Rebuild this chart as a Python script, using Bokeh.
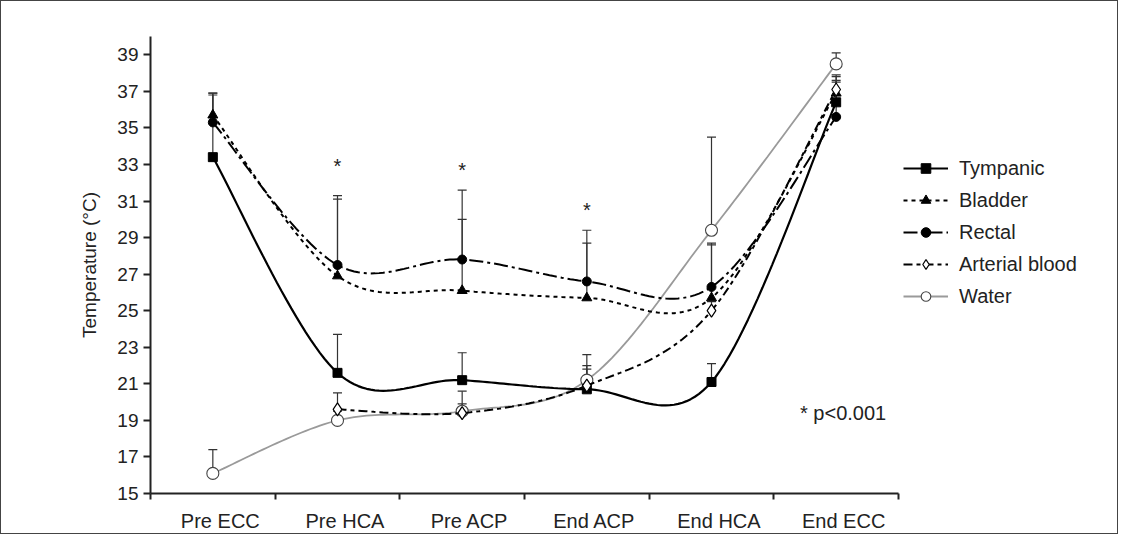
import numpy as np
from bokeh.plotting import figure
from bokeh.models import Range1d, FixedTicker, Legend, LegendItem
from bokeh.core.properties import value
from bokeh.embed import file_html
from bokeh.resources import INLINE

categories = ["Pre ECC", "Pre HCA", "Pre ACP", "End ACP", "End HCA", "End ECC"]
tympanic = [33.4, 21.6, 21.2, 20.7, 21.1, 36.4]
tympanic_err = [36.8, 23.7, 22.7, 22.6, 22.1, 37.6]
bladder = [35.7, 26.9, 26.1, 25.7, 25.7, 36.9]
bladder_err = [36.9, 31.1, 30.0, 28.7, 28.6, 37.8]
rectal = [35.3, 27.5, 27.8, 26.6, 26.3, 35.6]
rectal_err = [36.9, 31.3, 31.6, 29.4, 28.7, 37.5]
arterial = [None, 19.6, 19.4, 20.9, 25.0, 37.1]
arterial_err = [None, 20.5, 20.6, 21.8, 25.5, 37.9]
water = [16.1, 19.0, 19.5, 21.2, 29.4, 38.5]
water_err = [17.4, 19.5, 19.9, 22.0, 34.5, 39.1]
star_categories = ["Pre HCA", "Pre ACP", "End ACP"]
star_values = [32.9, 32.7, 30.5]
note_text = "* p<0.001"
y_ticks = list(range(15, 40, 2))

FONT = "Liberation Sans"
TXT = "#222222"

# layout (pixels)
W, H = 1118, 534
B_LEFT, B_RIGHT, B_TOP, B_BOTTOM = 149, 8, 35, 42
AXIS_PX = 748  # width of the category axis
frame_w = W - B_LEFT - B_RIGHT
n_cat = len(categories)
x_end = n_cat * frame_w / AXIS_PX

def cat_x(c):
    return categories.index(c) + 0.5

def smooth(xs, ys, n=30):
    P = np.column_stack([xs, ys]).astype(float)
    m = len(P)
    out = [P[0]]
    t = np.linspace(0, 1, n + 1)[1:, None]
    for i in range(m - 1):
        p0 = P[i - 1] if i > 0 else P[i]
        p1 = P[i]
        p2 = P[i + 1]
        p3 = P[i + 2] if i + 2 < m else P[i + 1]
        c1 = p1 + (p2 - p0) / 6.0
        c2 = p2 - (p3 - p1) / 6.0
        seg = (1 - t) ** 3 * p1 + 3 * (1 - t) ** 2 * t * c1 + 3 * (1 - t) * t ** 2 * c2 + t ** 3 * p2
        out.extend(seg)
    out = np.array(out)
    return out[:, 0], out[:, 1]

p = figure(width=W, height=H, x_range=Range1d(0, x_end), y_range=Range1d(15, 40),
           output_backend="svg", toolbar_location=None,
           min_border_left=B_LEFT, min_border_right=B_RIGHT,
           min_border_top=B_TOP, min_border_bottom=B_BOTTOM,
           styles={"border": "1px solid #444444"})
p.xgrid.visible = False
p.ygrid.visible = False
p.outline_line_color = None

series = [
    ("Tympanic", tympanic, tympanic_err, dict(line_color="black", line_width=2.2, line_dash="solid"),
     dict(marker="square", size=9, fill_color="black", line_color="black")),
    ("Bladder", bladder, bladder_err, dict(line_color="black", line_width=2, line_dash="4 4"),
     dict(marker="triangle", size=10, fill_color="black", line_color="black")),
    ("Rectal", rectal, rectal_err, dict(line_color="black", line_width=2, line_dash="14 4 3 4"),
     dict(marker="circle", size=9, fill_color="black", line_color="black")),
    ("Arterial blood", arterial, arterial_err, dict(line_color="black", line_width=2, line_dash="9 4 4 4"),
     dict(marker="diamond", size=13, fill_color="white", line_color="black", line_width=1.2)),
    ("Water", water, water_err, dict(line_color="#9a9a9a", line_width=1.8, line_dash="solid"),
     dict(marker="circle", size=12, fill_color="white", line_color="#444444", line_width=1.1)),
]

# error bars (upper only)
for name, vals, errs, _, _ in series:
    xs = [i + 0.5 for i, v in enumerate(vals) if v is not None]
    lo = [v for v in vals if v is not None]
    hi = [e for v, e in zip(vals, errs) if v is not None]
    p.segment(x0=xs, y0=lo, x1=xs, y1=hi, line_color="#333333", line_width=1.2)
    p.scatter(x=xs, y=hi, marker="dash", size=9, line_color="#333333", line_width=1.2)

order = [4, 0, 1, 2, 3]
renders = {}
for idx in order:
    name, vals, errs, lstyle, mstyle = series[idx]
    xs = [i + 0.5 for i, v in enumerate(vals) if v is not None]
    ys = [v for v in vals if v is not None]
    sx, sy = smooth(xs, ys)
    lr = p.line(sx, sy, **lstyle)
    mr = p.scatter(x=xs, y=ys, **mstyle)
    renders[name] = (lr, mr)
items = [LegendItem(label=name, renderers=list(renders[name])) for name, *_ in series]

legend = Legend(items=items, location=(AXIS_PX + 5, 185), glyph_width=45, glyph_height=24,
                label_height=24, spacing=8, padding=0, margin=0, label_standoff=11,
                border_line_alpha=0, background_fill_alpha=0,
                label_text_font=FONT, label_text_font_size="20px", label_text_color=TXT,
                label_text_baseline="middle")
p.add_layout(legend, "center")

# significance stars and note
p.text(x=[cat_x(c) for c in star_categories], y=star_values, text=["*"] * len(star_values),
       text_align="center", text_baseline="middle", text_font=value(FONT),
       text_font_size="20px", text_color=TXT)
p.text(x=[5.21], y=[19.4], text=[note_text], text_align="left", text_baseline="middle",
       text_font=value(FONT), text_font_size="20px", text_color=TXT)

# axes
label_shift = 0.06
xa = p.xaxis[0]
xa.bounds = (0, n_cat)
xa.ticker = FixedTicker(ticks=[i + 0.5 + label_shift for i in range(n_cat)],
                        minor_ticks=list(range(n_cat + 1)))
xa.major_label_overrides = {i + 0.5 + label_shift: c for i, c in enumerate(categories)}
xa.major_tick_out = 0
xa.major_tick_in = 0
xa.minor_tick_out = 6
xa.minor_tick_in = 0
xa.minor_tick_line_width = 2
xa.minor_tick_line_color = "#222222"
xa.axis_line_width = 2
xa.axis_line_color = "#222222"
xa.major_label_standoff = 10
xa.major_label_text_font = FONT
xa.major_label_text_font_size = "20px"
xa.major_label_text_color = TXT

ya = p.yaxis[0]
ya.ticker = FixedTicker(ticks=y_ticks)
ya.major_tick_out = 7
ya.major_tick_in = 0
ya.minor_tick_out = 0
ya.minor_tick_in = 0
ya.major_tick_line_width = 2
ya.major_tick_line_color = "#222222"
ya.axis_line_width = 2
ya.axis_line_color = "#222222"
ya.major_label_standoff = 5
ya.major_label_text_font = FONT
ya.major_label_text_font_size = "19px"
ya.major_label_text_color = TXT
ya.axis_label = "Temperature (°C)"
ya.axis_label_text_font = FONT
ya.axis_label_text_font_size = "19px"
ya.axis_label_text_font_style = "normal"
ya.axis_label_text_color = TXT
ya.axis_label_standoff = 14

open("out.html", "w").write(file_html(p, INLINE))
